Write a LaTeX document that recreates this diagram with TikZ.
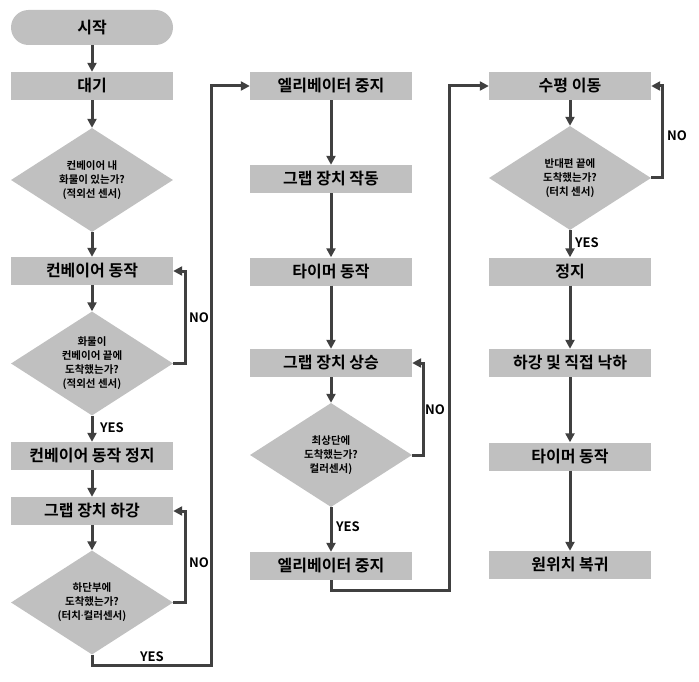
\documentclass[tikz,border=0pt]{standalone}
\usepackage{fontspec}
\setmainfont{Noto Sans CJK KR}[BoldFont={Noto Sans CJK KR Bold}]
\newfontfamily\latinfont{Noto Sans}
\usetikzlibrary{arrows.meta,shapes.geometric}
\definecolor{boxgray}{HTML}{C0C0C0}
\definecolor{linegray}{HTML}{404040}
\tikzset{
 box/.style={rectangle,fill=boxgray,minimum width=162pt,minimum height=28pt,inner sep=0pt,font=\fontsize{16}{18}\selectfont\bfseries},
 term/.style={box,rounded corners=17.5pt,minimum height=35pt},
 dia/.style={diamond,fill=boxgray,minimum width=162pt,minimum height=104pt,inner sep=0pt,aspect=1.56},
 dtext/.style={align=center,font=\fontsize{10.5}{14}\selectfont\bfseries,inner sep=0pt},
 conn/.style={draw=linegray,line width=3pt,-{Triangle[length=9pt,width=9pt]}},
 yn/.style={font=\fontsize{13}{15}\selectfont\bfseries,inner sep=0pt}
}
\begin{document}
\begin{tikzpicture}[x=1pt,y=-1pt]
\useasboundingbox[fill=white] (0,0) rectangle (699,682);
% column 1
\node[term] (start) at (92,27.5) {시작};
\node[box] (wait) at (92,86) {대기};
\node[dia] (d1) at (92,180) {};
\node[dtext] (t1) at (d1.center) {컨베이어 내\\화물이 있는가?\\(적외선 센서)};
\node[box] (conv) at (92,271) {컨베이어 동작};
\node[dia] (d2) at (92,363.5) {};
\node[dtext] (t2) at (d2.center) {화물이\\컨베이어 끝에\\도착했는가?\\(적외선 센서)};
\node[box] (convstop) at (92,456) {컨베이어 동작 정지};
\node[box] (lower) at (92,511) {그랩 장치 하강};
\node[dia] (d3) at (92,602.5) {};
\node[dtext] (t3) at (d3.center) {하단부에\\도착했는가?\\(터치{\latinfont\bfseries·}컬러센서)};
% column 2
\node[box] (e1) at (331,86) {엘리베이터 중지};
\node[box] (grab) at (331,179) {그랩 장치 작동};
\node[box] (timer1) at (331,271.5) {타이머 동작};
\node[box] (up) at (331,363) {그랩 장치 상승};
\node[dia] (d4) at (331,455) {};
\node[dtext] (t4) at (d4.center) {최상단에\\도착했는가?\\컬러센서)};
\node[box] (e2) at (331,566) {엘리베이터 중지};
% column 3
\node[box] (move) at (570,86) {수평 이동};
\node[dia] (d5) at (570,178) {};
\node[dtext] (t5) at (d5.center) {반대편 끝에\\도착했는가?\\(터치 센서)};
\node[box] (stop) at (570,271.5) {정지};
\node[box] (drop) at (570,363) {하강 및 직접 낙하};
\node[box] (timer2) at (570,456.5) {타이머 동작};
\node[box] (home) at (570,565) {원위치 복귀};
% labels
\node[yn] (no1) at (199,318) {NO};
\node[yn] (yes1) at (112,428) {YES};
\node[yn] (no2) at (199,563) {NO};
\node[yn] (yes2) at (152,657) {YES};
\node[yn] (no3) at (435,410) {NO};
\node[yn] (yes3) at (348,527) {YES};
\node[yn] (no4) at (677,136) {NO};
\node[yn] (yes4) at (587,243) {YES};
% coordinates
\coordinate (c1) at (211,665);
\coordinate (c2) at (449,590);
% connectors col 1
\draw[conn] (start) -- (wait);
\draw[conn] (wait) -- (d1);
\draw[conn] (d1) -- (conv);
\draw[conn] (conv) -- (d2);
\draw[conn] (d2) -- (convstop);
\draw[conn] (d2.east) -- ++(12,0) |- (conv.east);
\draw[conn] (convstop) -- (lower);
\draw[conn] (lower) -- (d3);
\draw[conn] (d3.east) -- ++(12,0) |- (lower.east);
\draw[conn] (d3.south) |- (c1) |- (e1.west);
% col 2
\draw[conn] (e1) -- (grab);
\draw[conn] (grab) -- (timer1);
\draw[conn] (timer1) -- (up);
\draw[conn] (up) -- (d4);
\draw[conn] (d4) -- (e2);
\draw[conn] (d4.east) -- ++(11,0) |- (up.east);
\draw[conn] (e2.south) |- (c2) |- (move.west);
% col 3
\draw[conn] (move) -- (d5);
\draw[conn] (d5) -- (stop);
\draw[conn] (d5.east) -- ++(11,0) |- (move.east);
\draw[conn] (stop) -- (drop);
\draw[conn] (drop) -- (timer2);
\draw[conn] (timer2) -- (home);
\end{tikzpicture}
\end{document}
